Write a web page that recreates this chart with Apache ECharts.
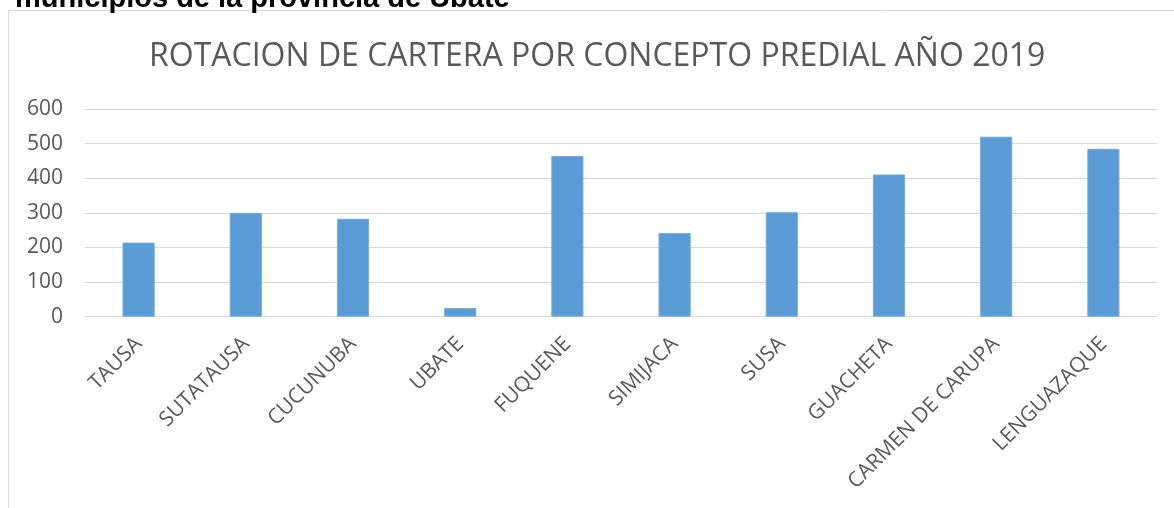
<!DOCTYPE html>
<html>
<head>
<meta charset="utf-8">
<script src="https://cdn.jsdelivr.net/npm/echarts@6/dist/echarts.min.js"></script>
<style>
html,body{margin:0;padding:0;background:#fff;}
#c{width:1174px;height:508px;}
</style>
</head>
<body>
<div id="c"></div>
<script>
const categories = ['TAUSA','SUTATAUSA','CUCUNUBA','UBATE','FUQUENE','SIMIJACA','SUSA','GUACHETA','CARMEN DE CARUPA','LENGUAZAQUE'];
const values = [214, 300, 283, 25, 464, 242, 302, 411, 520, 485];
const yTicks = [0, 100, 200, 300, 400, 500, 600];
const titleText = 'ROTACION DE CARTERA POR CONCEPTO PREDIAL AÑO 2019';
const headingText = 'municipios de la provincia de Ubaté';

const chart = echarts.init(document.getElementById('c'), null, {renderer: 'canvas'});
chart.setOption({
  animation: false,
  backgroundColor: '#ffffff',
  title: {
    text: titleText,
    left: 144,
    top: 36,
    textStyle: {fontFamily: 'Open Sans', fontSize: 32, fontWeight: 'normal', color: '#595959'}
  },
  graphic: [
    {type: 'rect', shape: {x: 8.5, y: 10.5, width: 1300, height: 700}, style: {fill: 'none', stroke: '#d9d9d9', lineWidth: 1}, silent: true, z: -1},
    {type: 'text', left: 15, top: -16, style: {text: headingText, font: 'bold 29px "Liberation Sans"', fill: '#000000'}}
  ],
  grid: {left: 85, right: 17, top: 109, bottom: 191.3},
  xAxis: {
    type: 'category',
    data: categories,
    axisLine: {lineStyle: {color: '#d9d9d9', width: 1}},
    axisTick: {show: false},
    axisLabel: {rotate: 45, interval: 0, margin: 24, fontFamily: 'Open Sans', fontSize: 21, color: '#595959'}
  },
  yAxis: {
    type: 'value',
    min: yTicks[0],
    max: yTicks[yTicks.length - 1],
    interval: 100,
    axisLine: {show: false},
    axisTick: {show: false},
    splitLine: {lineStyle: {color: '#d9d9d9', width: 1}},
    axisLabel: {margin: 22, fontFamily: 'Open Sans', fontSize: 21, color: '#595959'}
  },
  series: [{
    type: 'bar',
    data: values,
    barWidth: '30%',
    itemStyle: {color: '#5b9bd5', borderColor: '#76abdc', borderWidth: 1}
  }]
});
</script>
</body>
</html>
